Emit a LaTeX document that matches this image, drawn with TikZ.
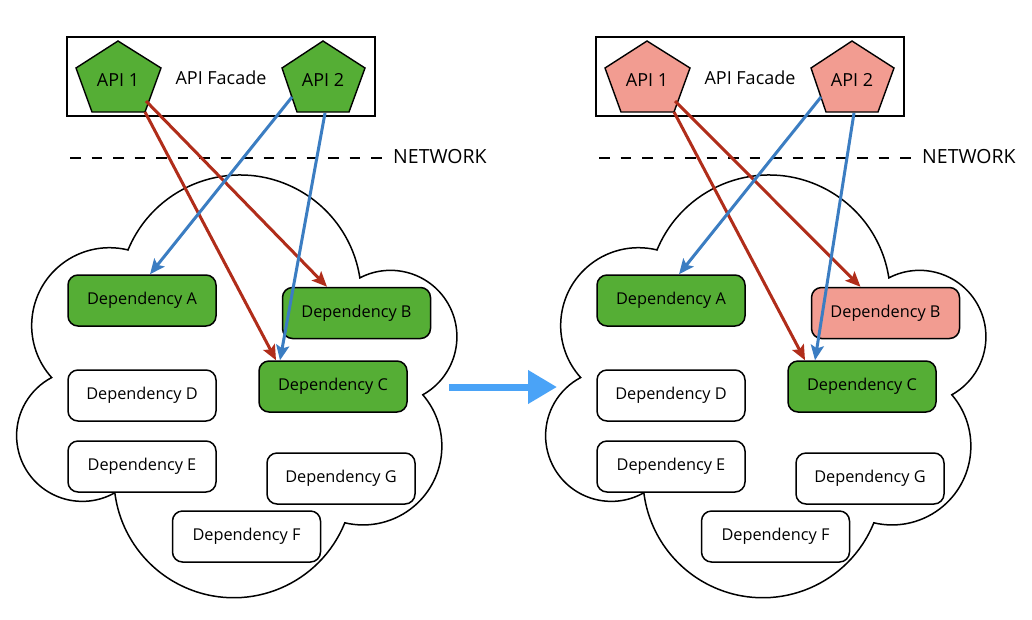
\documentclass[tikz,border=0pt]{standalone}
\usepackage{fontspec}
\setmainfont{Open Sans}
\usetikzlibrary{arrows.meta}
\definecolor{depgreen}{HTML}{55AE35}
\definecolor{depred}{HTML}{F29C91}
\definecolor{arrred}{HTML}{B02D1A}
\definecolor{arrblue}{HTML}{3B7DC2}
\definecolor{bigblue}{HTML}{4AA3F7}
\tikzset{
  dep/.style={draw=black, line width=1.5pt, rounded corners=10pt, minimum width=148pt,
    minimum height=51pt, fill=white, inner sep=0pt, font=\fontsize{16.3}{19}\selectfont},
  labeltext/.style={inner sep=0pt, font=\fontsize{18}{21}\selectfont},
  nettext/.style={inner sep=0pt, font=\fontsize{19.5}{22}\selectfont},
  facadebox/.style={draw=black, line width=1.4pt, minimum width=308pt, minimum height=79pt, inner sep=0pt},
  pent/.style={draw=black, line width=1.4pt, line join=miter},
  cloudline/.style={draw=black, line width=1.5pt, fill=white},
  netline/.style={draw=black, line width=1.6pt, dash pattern=on 10.5pt off 11pt},
  redarr/.style={draw=arrred, line width=3pt, -{Stealth[length=15pt,width=13pt,inset=3pt]}},
  bluearr/.style={draw=arrblue, line width=3pt, -{Stealth[length=15pt,width=13pt,inset=3pt]}},
  bigarr/.style={draw=bigblue, line width=7pt, -{Triangle[length=29pt,width=32pt]}},
}
% #1 prefix, #2 x offset, #3 API fill, #4 B fill, #5 red->B shift, #6 blue->C shift
\newcommand\facadepanel[6]{%
\begin{scope}[xshift=#2pt]
  \node[facadebox] (#1fac) at (221,-76.5) {};
  \draw[pent, fill=#3] (118,-41) -- (161,-68) -- (145,-112) -- (92,-112) -- (76,-68) -- cycle;
  \draw[pent, fill=#3] (323,-41) -- (365,-68) -- (349,-112) -- (297,-112) -- (282,-68) -- cycle;
  \node[labeltext] (#1api1) at (118,-80) {API 1};
  \node[labeltext] (#1api2) at (323,-80) {API 2};
  \node[labeltext] (#1factext) at (221,-78) {API Facade};
  \coordinate (#1n1) at (70,-158);
  \coordinate (#1n2) at (382,-158);
  \node[nettext, anchor=west] (#1net) at (393,-157) {NETWORK};
  \draw[cloudline] (128,-250)
    arc[start angle=157.6, end angle=8.7, radius=121.2pt]
    arc[start angle=117.5, end angle=-60.9, radius=66.4pt]
    arc[start angle=40.7, end angle=-103.4, radius=78.8pt]
    arc[start angle=-22.0, end angle=-172.9, radius=119.8pt]
    arc[start angle=-60.3, end angle=-242.2, radius=65.7pt]
    arc[start angle=-138.0, end angle=-283.5, radius=77.8pt] -- cycle;
  \node[dep, fill=depgreen] (#1A) at (142,-300.5) {Dependency A};
  \node[dep, fill=#4] (#1B) at (356.5,-313) {Dependency B};
  \node[dep, fill=depgreen] (#1C) at (333,-386.5) {Dependency C};
  \node[dep] (#1D) at (142,-395.5) {Dependency D};
  \node[dep] (#1E) at (142,-466.5) {Dependency E};
  \node[dep] (#1G) at (341,-478.5) {Dependency G};
  \node[dep] (#1F) at (246.5,-536.5) {Dependency F};
  \coordinate (#1r1s) at (146,-101);
  \coordinate (#1r2s) at (145,-112);
  \coordinate (#1b1s) at (292,-97);
  \coordinate (#1b2s) at (325,-113);
\end{scope}
\draw[netline] (#1n1) -- (#1n2);
\draw[redarr] (#1r1s) -- ([xshift=#5pt]#1B.north);
\draw[redarr] (#1r2s) -- ([xshift=-57pt]#1C.north);
\draw[bluearr] (#1b1s) -- ([xshift=8pt]#1A.north);
\draw[bluearr] (#1b2s) -- ([xshift=#6pt]#1C.north);
}
\begin{document}
\begin{tikzpicture}[x=1pt, y=1pt]
  \useasboundingbox[fill=white] (0,0) rectangle (1032,-619);
  \facadepanel{L}{0}{depgreen}{depgreen}{-29.5}{-53}
  \facadepanel{R}{529}{depred}{depred}{-25}{-47}
  \coordinate (m1) at (449,-387);
  \coordinate (m2) at (557,-387);
  \draw[bigarr] (m1) -- (m2);
\end{tikzpicture}
\end{document}
